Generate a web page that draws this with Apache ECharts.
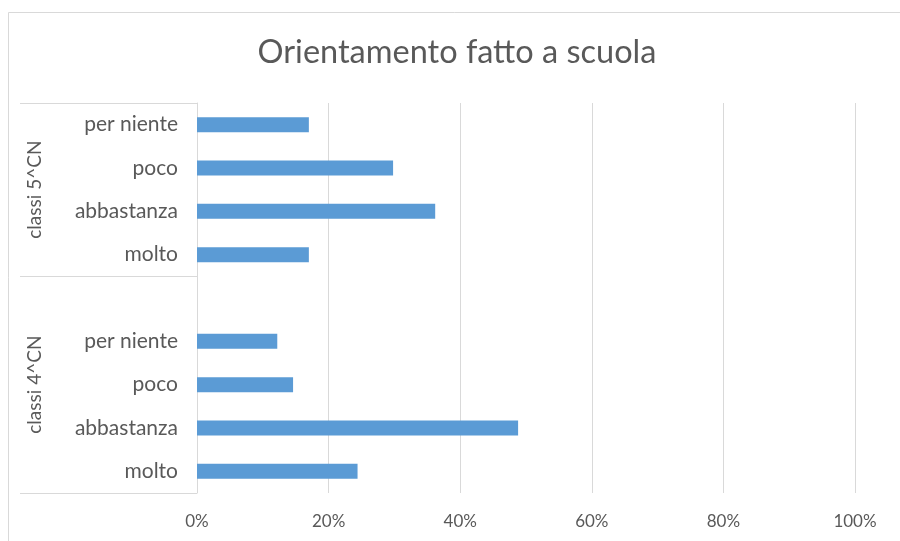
<!DOCTYPE html>
<html>
<head>
<meta charset="utf-8">
<script src="https://cdn.jsdelivr.net/npm/echarts@6/dist/echarts.min.js"></script>
<style>
html,body{margin:0;padding:0;background:#fff;}
#main{width:900px;height:541px;}
</style>
</head>
<body>
<div id="main"></div>
<script>
// ---- data (bottom to top within each group) ----
const title = 'Orientamento fatto a scuola';
const groupNames = ['classi 4^CN', 'classi 5^CN'];
const categories4 = ['molto', 'abbastanza', 'poco', 'per niente'];
const values4 = [0.244, 0.488, 0.146, 0.122];
const categories5 = ['molto', 'abbastanza', 'poco', 'per niente'];
const values5 = [0.170, 0.362, 0.298, 0.170];
const xTicks = [0, 0.2, 0.4, 0.6, 0.8, 1.0];

// the 4^CN group has a blank row at its top in the source table
const rows4 = categories4.concat(['']);
const vals4 = values4.concat([null]);
const categories = rows4.concat(categories5);
const values = vals4.concat(values5);

const groupSizes = [rows4.length, categories5.length];
const totalRows = categories.length;
const groupBounds = [0];
groupSizes.forEach(s => groupBounds.push(groupBounds[groupBounds.length - 1] + s));
const groupCenters = groupSizes.map((s, i) => groupBounds[i] + s / 2);

const textColor = '#595959';
const lineColor = '#d9d9d9';
const font = 'Lato, "Open Sans", sans-serif';

const chart = echarts.init(document.getElementById('main'));
chart.setOption({
  animation: false,
  backgroundColor: '#fff',
  title: {
    text: title,
    left: 452,
    textAlign: 'center',
    top: 31,
    textStyle: { color: textColor, fontSize: 32.5, fontWeight: 'normal', fontFamily: font }
  },
  graphic: [{
    type: 'rect',
    silent: true,
    shape: { x: 8.5, y: 12.5, width: 1000, height: 1000 },
    style: { fill: 'none', stroke: lineColor, lineWidth: 1 }
  }],
  grid: { left: 197, right: 45, top: 103, bottom: 48 },
  xAxis: {
    type: 'value',
    min: xTicks[0],
    max: xTicks[xTicks.length - 1],
    interval: xTicks[1] - xTicks[0],
    axisLine: { show: false },
    axisTick: { show: false },
    splitLine: { show: true, lineStyle: { color: lineColor, width: 1 } },
    axisLabel: {
      color: textColor, fontSize: 17, fontFamily: font, margin: 20,
      formatter: v => Math.round(v * 100) + '%'
    }
  },
  yAxis: [{
    type: 'category',
    data: categories,
    axisLine: { show: true, lineStyle: { color: lineColor, width: 1 } },
    axisTick: { show: false },
    axisLabel: { color: textColor, fontSize: 21, fontFamily: font, margin: 19 }
  }, {
    type: 'value',
    position: 'left',
    min: 0,
    max: totalRows,
    axisLine: { show: false },
    splitLine: { show: false },
    axisTick: {
      show: true,
      customValues: groupBounds,
      length: 177,
      lineStyle: { color: lineColor, width: 1 }
    },
    axisLabel: {
      show: true,
      customValues: groupCenters,
      rotate: 90,
      margin: 153,
      color: textColor, fontSize: 19, fontFamily: font,
      formatter: v => {
        const i = groupCenters.indexOf(v);
        return i >= 0 ? groupNames[i] : '';
      }
    }
  }],
  series: [{
    type: 'bar',
    yAxisIndex: 0,
    data: values,
    barWidth: 15,
    itemStyle: { color: '#5b9bd5' }
  }]
});
</script>
</body>
</html>
